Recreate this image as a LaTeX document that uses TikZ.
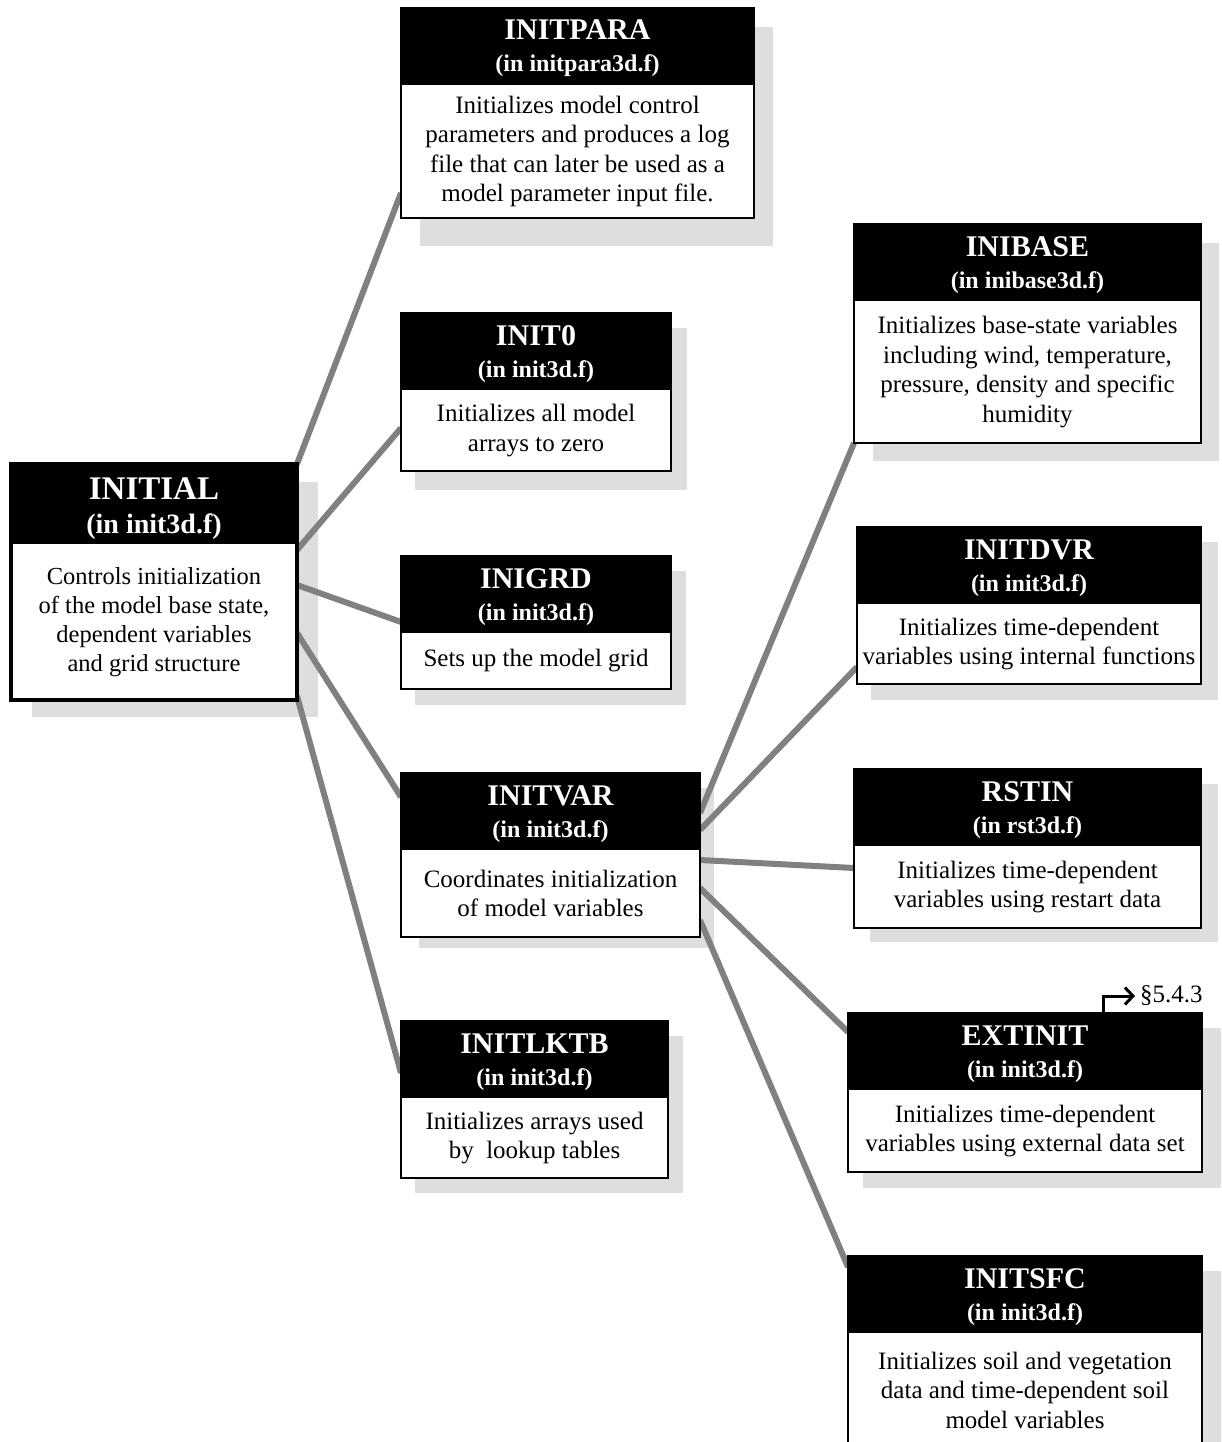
\documentclass[tikz,border=0pt]{standalone}
\usepackage{fontspec}
\setmainfont{Liberation Serif}
\usetikzlibrary{arrows.meta,calc}
\pgfdeclarelayer{shade}
\pgfdeclarelayer{links}
\pgfsetlayers{shade,links,main}

\definecolor{linkgray}{RGB}{128,128,128}
\definecolor{shadegray}{RGB}{222,222,222}

\tikzset{
  boxframe/.style={draw=black, line width=1.5pt, fill=white, inner sep=0pt, outer sep=0pt},
  boxhead/.style={fill=black, inner sep=0pt, outer sep=0pt, minimum height=77pt},
  titletext/.style={text=white, inner sep=0pt, font=\fontsize{30}{32}\selectfont\bfseries},
  filetext/.style={text=white, inner sep=0pt, font=\fontsize{24}{26}\selectfont\bfseries},
  bodytext/.style={align=center, inner sep=0pt, font=\fontsize{25}{29.5}\selectfont},
  link/.style={draw=linkgray, line width=6pt},
  refarrow/.style={draw=black, line width=3pt, -{Straight Barb[length=8pt,width=17pt]}},
}

% \modbox[options]{name}{x}{y}{width}{height}{title}{file}{description}
\newcommand\modbox[9][]{%
  \begin{scope}[#1]
    \node[boxframe, minimum width=#5pt, minimum height=#6pt, anchor=north west] (#2) at (#3,#4) {};
    \node[boxhead, minimum width=#5pt, anchor=north west] (#2-h) at (#2.north west) {};
    \node[titletext, anchor=base] (#2-t) at ($(#2.north)+(0,32)$) {#7};
    \node[filetext, anchor=base] (#2-f) at ($(#2.north)+(0,64)$) {#8};
    \node[bodytext] (#2-b) at ($(#2-h.south)!0.5!(#2.south)$) {#9};
  \end{scope}}

% drop shadow behind a box: x1 y1 x2 y2
\newcommand\shadebox[4]{%
  \begin{pgfonlayer}{shade}
    \fill[shadegray] (#1,#2) rectangle (#3,#4);
  \end{pgfonlayer}}

\begin{document}
\begin{tikzpicture}[x=1pt, y=-1pt]
\useasboundingbox (0,0) rectangle (1221,1442);

% shadows
\shadebox{32}{482}{318}{717}
\shadebox{420}{27}{773}{246}
\shadebox{415}{328}{687}{490}
\shadebox{415}{571}{686}{705}
\shadebox{419}{788}{714}{948}
\shadebox{415}{1036}{683}{1193}
\shadebox{873}{243}{1219}{461}
\shadebox{871}{542}{1218}{700}
\shadebox{870}{784}{1218}{942}
\shadebox{863}{1028}{1221}{1188}
\shadebox{863}{1271}{1221}{1460}

% main driver
\modbox[boxframe/.append style={line width=4pt},
        boxhead/.append style={minimum height=80pt},
        titletext/.append style={font=\fontsize{33}{35}\selectfont\bfseries, yshift=-3pt},
        filetext/.append style={font=\fontsize{28}{30}\selectfont\bfseries, yshift=-5pt},
        bodytext/.append style={font=\fontsize{24.5}{29}\selectfont}]
  {initial}{11}{464}{286}{236}{INITIAL}{(in init3d.f)}
  {Controls initialization\\of the model base state,\\dependent variables\\and grid structure}

% first-level routines
\modbox{initpara}{401}{8}{353}{210}{INITPARA}{(in initpara3d.f)}
  {Initializes model control\\parameters and produces a log\\file that can later be used as a\\model parameter input file.}
\modbox{init0}{401}{313}{270}{158}{INIT0}{(in init3d.f)}
  {Initializes all model\\arrays to zero}
\modbox{inigrd}{401}{556}{270}{133}{INIGRD}{(in init3d.f)}
  {Sets up the model grid}
\modbox{initvar}{401}{773}{299}{164}{INITVAR}{(in init3d.f)}
  {Coordinates initialization\\of model variables}
\modbox{initlktb}{401}{1021}{267}{157}{INITLKTB}{(in init3d.f)}
  {Initializes arrays used\\by~ lookup tables}

% second-level routines
\modbox{inibase}{854}{224}{347}{219}{INIBASE}{(in inibase3d.f)}
  {Initializes base-state variables\\including wind, temperature,\\pressure, density and specific\\humidity}
\modbox{initdvr}{857}{527}{344}{157}{INITDVR}{(in init3d.f)}
  {Initializes time-dependent\\variables using internal functions}
\modbox{rstin}{854}{769}{347}{159}{RSTIN}{(in rst3d.f)}
  {Initializes time-dependent\\variables using restart data}
\modbox{extinit}{848}{1013}{354}{159}{EXTINIT}{(in init3d.f)}
  {Initializes time-dependent\\variables using external data set}
\modbox{initsfc}{848}{1256}{354}{191}{INITSFC}{(in init3d.f)}
  {Initializes soil and vegetation\\data and time-dependent soil\\model variables}

% section reference
\node[anchor=west, inner sep=0pt, font=\fontsize{25}{27}\selectfont] (sect) at (1140,996) {§5.4.3};
\draw[refarrow] ([xshift=255pt]extinit.north west) |- ([xshift=-5pt]sect.west);

% calling links
\begin{pgfonlayer}{links}
  \draw[link] (initial.north east) -- ([yshift=25pt]initpara.south west);
  \draw[link] ([yshift=-86pt]initial.north east) -- ([yshift=43pt]init0.south west);
  \draw[link] ([yshift=-121pt]initial.north east) -- ([yshift=-66pt]inigrd.north west);
  \draw[link] ([yshift=-169pt]initial.north east) -- ([yshift=-24pt]initvar.north west);
  \draw[link] ([yshift=4pt]initial.south east) -- ([yshift=-52pt]initlktb.north west);
  \draw[link] ([yshift=-40pt]initvar.north east) -- (inibase.south west);
  \draw[link] ([yshift=-57pt]initvar.north east) -- ([yshift=17pt]initdvr.south west);
  \draw[link] ([yshift=-87pt]initvar.north east) -- ([yshift=-99pt]rstin.north west);
  \draw[link] ([yshift=-115pt]initvar.north east) -- ([yshift=-19pt]extinit.north west);
  \draw[link] ([yshift=-147pt]initvar.north east) -- ([yshift=-11pt]initsfc.north west);
\end{pgfonlayer}
\end{tikzpicture}
\end{document}
